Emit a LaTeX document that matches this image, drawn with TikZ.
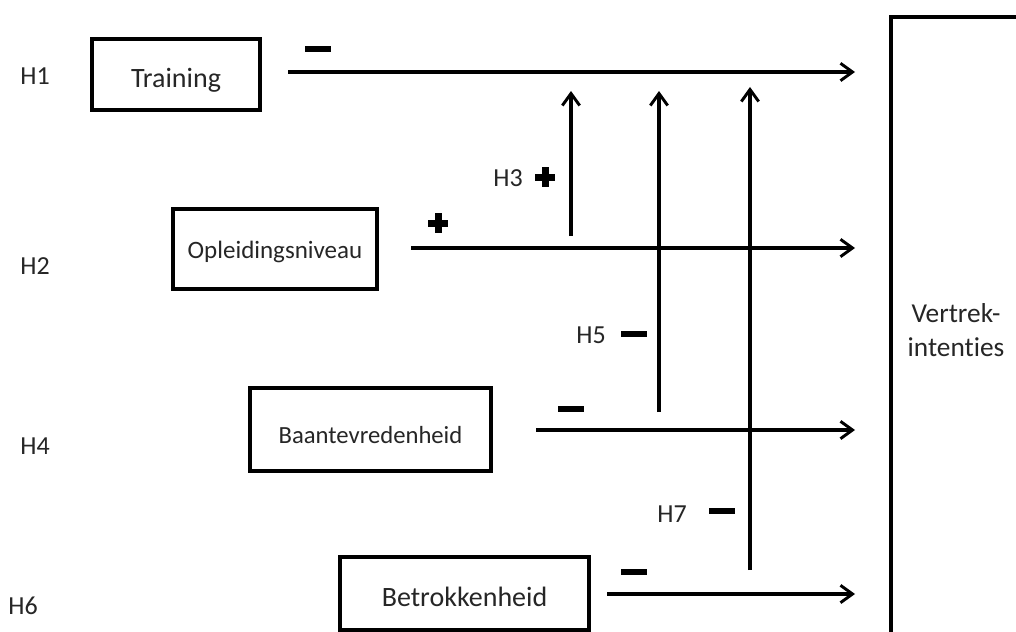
\documentclass[tikz,border=0pt]{standalone}
\usepackage{fontspec}
\setmainfont{Carlito}[Ligatures={NoCommon}]
\usetikzlibrary{arrows.meta}
\definecolor{txt}{HTML}{262626}
\tikzset{
  box/.style={draw=black, line width=2.3pt, inner sep=0pt, align=center, text=txt},
  arr/.style={line width=2.3pt, -{Straight Barb[length=9pt,width=13pt,line width=2.2pt]}},
  hlab/.style={inner sep=0pt, text=txt, font=\fontsize{19.5pt}{23pt}\selectfont},
}
\newcommand{\minussign}[2]{\fill (#1-13,#2-3) rectangle (#1+13,#2+3);}
\newcommand{\plussign}[2]{\fill (#1-10,#2-3.5) rectangle (#1+10,#2+3.5); \fill (#1-3.5,#2-10) rectangle (#1+3.5,#2+10);}
\newcommand{\lowered}[2]{\raisebox{-#1}[0pt][0pt]{#2}}
\begin{document}
\begin{tikzpicture}[x=0.75pt,y=-0.75pt]
\useasboundingbox (0,0) rectangle (1016,631);
\fill[white] (0,0) rectangle (1016,631);
% boxes
\node[box, minimum width=126pt, minimum height=53.25pt, font=\fontsize{21pt}{24pt}\selectfont] (tr) at (176,74.5) {\lowered{10pt}{Training}};
\node[box, minimum width=153pt, minimum height=60pt, font=\fontsize{18.75pt}{22pt}\selectfont] (op) at (275,249) {\lowered{7.3pt}{Opleidingsniveau}};
\node[box, minimum width=180.75pt, minimum height=62.25pt, font=\fontsize{18.5pt}{22pt}\selectfont] (ba) at (370.5,429.5) {\lowered{10.5pt}{Baantevredenheid}};
\node[box, minimum width=186.75pt, minimum height=54.75pt, font=\fontsize{21pt}{24pt}\selectfont] (be) at (464.5,593.5) {\lowered{9.5pt}{Betrokkenheid}};
\begin{scope}
\clip (0,0) rectangle (1016,631);
\node[box, minimum width=97.5pt, minimum height=469.5pt, font=\fontsize{20.5pt}{25.5pt}\selectfont] (vt) at (956,330) {Vertrek-\\intenties};
\end{scope}
% H labels
\node[hlab] (h1) at (35,76) {H1};
\node[hlab] (h2) at (35,266) {H2};
\node[hlab] (h4) at (35,446) {H4};
\node[hlab] (h6) at (23,606) {H6};
\node[hlab] (h3) at (508,178) {H3};
\node[hlab] (h5) at (591,335) {H5};
\node[hlab] (h7) at (672,514) {H7};
% coordinates
\coordinate (s1) at (288,72);  \coordinate (e1) at (855,72);
\coordinate (s2) at (411,248); \coordinate (e2) at (855,248);
\coordinate (s4) at (536,430); \coordinate (e4) at (855,430);
\coordinate (s6) at (607,594); \coordinate (e6) at (855,594);
\coordinate (v3s) at (571,236); \coordinate (v3e) at (571,91);
\coordinate (v5s) at (659,412); \coordinate (v5e) at (659,91);
\coordinate (v7s) at (750,570); \coordinate (v7e) at (750,87);
% arrows
\draw[arr] (s1) -- (e1);
\draw[arr] (s2) -- (e2);
\draw[arr] (s4) -- (e4);
\draw[arr] (s6) -- (e6);
\draw[arr] (v3s) -- (v3e);
\draw[arr] (v5s) -- (v5e);
\draw[arr] (v7s) -- (v7e);
% signs
\minussign{318}{49}
\minussign{571}{409}
\minussign{634}{334}
\minussign{722}{511}
\minussign{634}{572}
\plussign{438}{223}
\plussign{545}{177}
\end{tikzpicture}
\end{document}
